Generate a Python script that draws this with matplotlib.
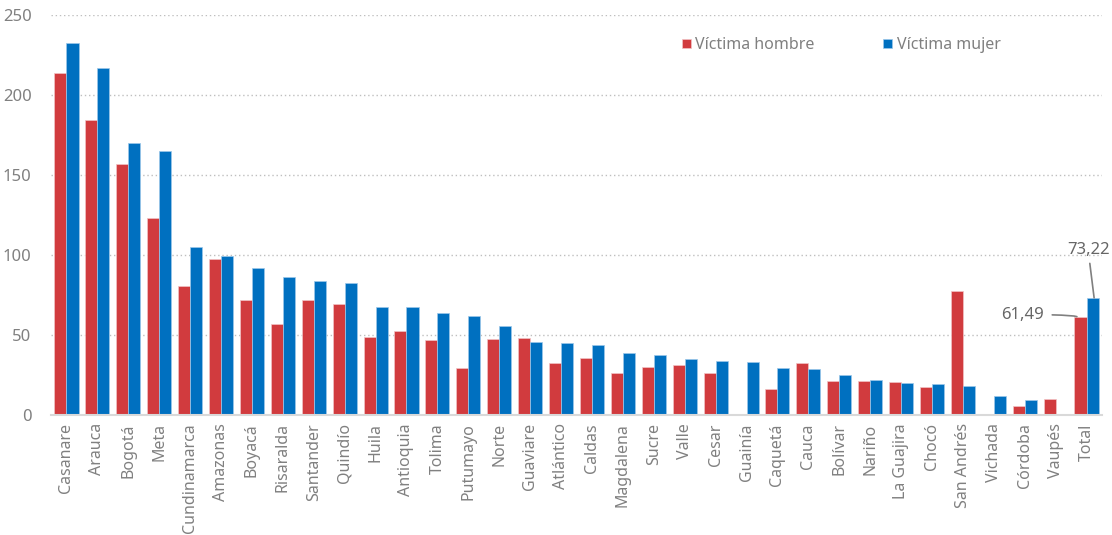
import numpy as np
import matplotlib
matplotlib.use('Agg')
import matplotlib.pyplot as plt
from matplotlib.ticker import MultipleLocator

# datos por departamento
departamentos = ['Casanare', 'Arauca', 'Bogotá', 'Meta', 'Cundinamarca', 'Amazonas',
                 'Boyacá', 'Risaralda', 'Santander', 'Quindío', 'Huila', 'Antioquia',
                 'Tolima', 'Putumayo', 'Norte', 'Guaviare', 'Atlántico', 'Caldas',
                 'Magdalena', 'Sucre', 'Valle', 'Cesar', 'Guainía', 'Caquetá', 'Cauca',
                 'Bolívar', 'Nariño', 'La Guajira', 'Chocó', 'San Andrés', 'Vichada',
                 'Córdoba', 'Vaupés', 'Total']
victima_hombre = [213.6, 184.5, 156.8, 123.1, 80.9, 97.6, 71.6, 56.8, 71.8, 69.5, 48.5,
                  52.2, 46.6, 29.6, 47.2, 48.1, 32.5, 35.4, 26.5, 29.8, 31.0, 26.0, 0,
                  16.1, 32.8, 21.4, 21.0, 20.4, 17.7, 77.2, 0, 5.5, 9.8, 61.49]
victima_mujer = [232.7, 217.1, 169.9, 164.7, 105.1, 99.6, 91.7, 86.3, 84.0, 82.6, 67.8,
                 67.2, 63.9, 61.6, 55.5, 45.6, 45.2, 43.9, 38.5, 37.5, 34.8, 33.9, 33.2,
                 29.1, 28.9, 24.9, 21.8, 19.8, 19.2, 17.9, 11.7, 9.6, 0, 73.22]

rojo = '#D13B3E'
azul = '#0070C0'
gris = '#808080'

plt.rcParams['font.family'] = ['Noto Sans', 'DejaVu Sans']

fig = plt.figure(figsize=(11.12, 5.35), dpi=100)
ax = fig.add_axes([51 / 1112, 120 / 535, 1051 / 1112, 400 / 535])

x = np.arange(len(departamentos))
w = 0.39
ax.bar(x - w / 2, victima_hombre, w, color=rojo, edgecolor='#F2C4C5', linewidth=0.5,
       label='Víctima hombre', zorder=3)
ax.bar(x + w / 2, victima_mujer, w, color=azul, edgecolor='#9CC8EA', linewidth=0.5,
       label='Víctima mujer', zorder=3)

ax.set_xlim(-0.5, len(departamentos) - 0.5)
ax.set_ylim(0, 250)
ax.yaxis.set_major_locator(MultipleLocator(50))
ax.set_xticks(x)
ax.set_xticklabels(departamentos, rotation=90, fontsize=11.5, color=gris)
ax.tick_params(axis='y', labelsize=12, colors=gris, length=0, pad=14)
ax.tick_params(axis='x', length=0, pad=6)

for s in ['top', 'right', 'left']:
    ax.spines[s].set_visible(False)
ax.spines['bottom'].set_color('#D9D9D9')
ax.spines['bottom'].set_linewidth(1.5)
ax.spines['bottom'].set_zorder(4)
ax.grid(axis='y', linestyle=(0, (1, 2)), color='#BFBFBF', linewidth=1, zorder=0)
ax.set_axisbelow(True)

# etiquetas del total
ax.annotate(f'{victima_hombre[-1]:.2f}'.replace('.', ','), xy=(x[-1] - w * 0.8, victima_hombre[-1]),
            xytext=(-33, 2), textcoords='offset pixels', ha='right', va='center',
            fontsize=12, color='#666666',
            arrowprops=dict(arrowstyle='-', color=gris, lw=1.2, shrinkA=4, shrinkB=0,
                            connectionstyle='angle3,angleA=0,angleB=-20'))
ax.annotate(f'{victima_mujer[-1]:.2f}'.replace('.', ','), xy=(x[-1] + w / 2 + 0.05, victima_mujer[-1]),
            xytext=(-6, 40), textcoords='offset pixels', ha='center', va='bottom',
            fontsize=12, color='#666666',
            arrowprops=dict(arrowstyle='-', color=gris, lw=1.2, shrinkA=2, shrinkB=0))

ax.legend(loc='center', bbox_to_anchor=(0.752, 0.925), ncol=2, frameon=False,
          fontsize=11.5, labelcolor=gris, handlelength=0.55, handleheight=0.55,
          handletextpad=0.3, columnspacing=4.3)

fig.savefig('out.png', dpi=100)
